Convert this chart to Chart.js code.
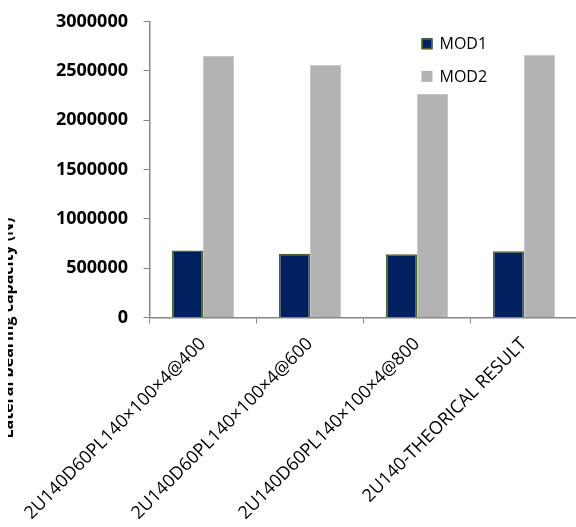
<!DOCTYPE html>
<html>
<head>
<meta charset="utf-8">
<script src="https://cdn.jsdelivr.net/npm/chart.js@4.4.0/dist/chart.umd.min.js"></script>
<style>
  html, body { margin: 0; padding: 0; background: #fff; }
  #wrap { position: relative; width: 576px; height: 527px; overflow: hidden; }
  #chart { position: absolute; left: -12px; top: -30px; }
</style>
</head>
<body>
<div id="wrap"><canvas id="chart" width="592" height="557"></canvas></div>
<script>
const categories = [
    '2U140D60PL140×100×4@400',
    '2U140D60PL140×100×4@600',
    '2U140D60PL140×100×4@800',
    '2U140-THEORICAL RESULT'
];
const mod1 = [680000, 645000, 640000, 672000];
const mod2 = [2650000, 2560000, 2265000, 2660000];
const yMin = 0;
const yMax = 3000000;
const yStep = 500000;
const chartTitle = 'Comparison of lateral bearing capacity (N)';
const yTitle = 'Lateral bearing capacity (N)';

const axisGrey = '#868686';

// stacked legend drawn inside the plot, top right
const boxLegend = {
    id: 'boxLegend',
    afterDraw(chart) {
        const { ctx, chartArea } = chart;
        const x = chartArea.left + 272;
        let y = chartArea.top + 22.3;
        ctx.save();
        chart.data.datasets.forEach(ds => {
            ctx.fillStyle = ds.backgroundColor;
            ctx.fillRect(x, y - 5.5, 11, 11);
            if (ds.legendStroke) {
                ctx.strokeStyle = ds.borderColor;
                ctx.lineWidth = 1.5;
                ctx.strokeRect(x + 0.75, y - 4.75, 9.5, 9.5);
            }
            ctx.fillStyle = '#000';
            ctx.font = '16px "Open Sans"';
            ctx.textAlign = 'left';
            ctx.textBaseline = 'middle';
            ctx.fillText(ds.label, x + 18, y + 1);
            y += 32.6;
        });
        ctx.restore();
    }
};

// titles: the main one runs off the top edge, the y one sits low and half hidden
const edgeTitles = {
    id: 'edgeTitles',
    afterDraw(chart) {
        const { ctx, chartArea } = chart;
        ctx.save();
        ctx.fillStyle = '#000';
        ctx.font = 'bold 18px "Open Sans"';
        ctx.textAlign = 'center';
        ctx.textBaseline = 'alphabetic';
        ctx.fillText(chartTitle, (chartArea.left + chartArea.right) / 2 + 20, 25.5);

        ctx.beginPath();
        ctx.rect(20, 0, 40, chart.height);
        ctx.clip();
        ctx.translate(25, 358);
        ctx.rotate(-Math.PI / 2);
        ctx.font = 'bold 16px "Open Sans"';
        ctx.fillText(yTitle, 0, 0);
        ctx.restore();
    }
};

const ctx = document.getElementById('chart').getContext('2d');
const capacityChart = new Chart(ctx, {
    type: 'bar',
    data: {
        labels: categories,
        datasets: [{
            label: 'MOD1',
            data: mod1,
            backgroundColor: '#002060',
            borderColor: '#4F6228',
            borderWidth: 1.5,
            legendStroke: true,
            categoryPercentage: 0.58,
            barPercentage: 1.0
        }, {
            label: 'MOD2',
            data: mod2,
            backgroundColor: '#B3B3B3',
            borderColor: '#C9C9C9',
            borderWidth: 1,
            categoryPercentage: 0.58,
            barPercentage: 1.0
        }]
    },
    options: {
        responsive: false,
        animation: false,
        layout: {
            padding: { left: 0, right: 2.5, top: 51.5, bottom: 0 }
        },
        plugins: {
            legend: { display: false },
            tooltip: { enabled: false },
            title: { display: false }
        },
        scales: {
            x: {
                afterFit(scale) { scale.height = 209.5; },
                grid: {
                    display: true,
                    drawOnChartArea: false,
                    offset: true,
                    color: axisGrey,
                    tickLength: 6
                },
                border: { display: true, color: axisGrey, width: 1.5 },
                ticks: {
                    color: '#000',
                    font: { family: 'Open Sans', size: 18 },
                    minRotation: 45,
                    maxRotation: 45,
                    autoSkip: false,
                    padding: 10
                }
            },
            y: {
                min: yMin,
                max: yMax,
                afterFit(scale) { scale.width = 161.5; },
                grid: {
                    display: true,
                    drawOnChartArea: false,
                    color: axisGrey,
                    tickLength: 6
                },
                border: { display: true, color: axisGrey, width: 1.5 },
                ticks: {
                    stepSize: yStep,
                    color: '#000',
                    font: { family: 'Open Sans', size: 18, weight: 'bold' },
                    padding: 15.5,
                    callback: value => String(value)
                }
            }
        }
    },
    plugins: [boxLegend, edgeTitles]
});
</script>
</body>
</html>
